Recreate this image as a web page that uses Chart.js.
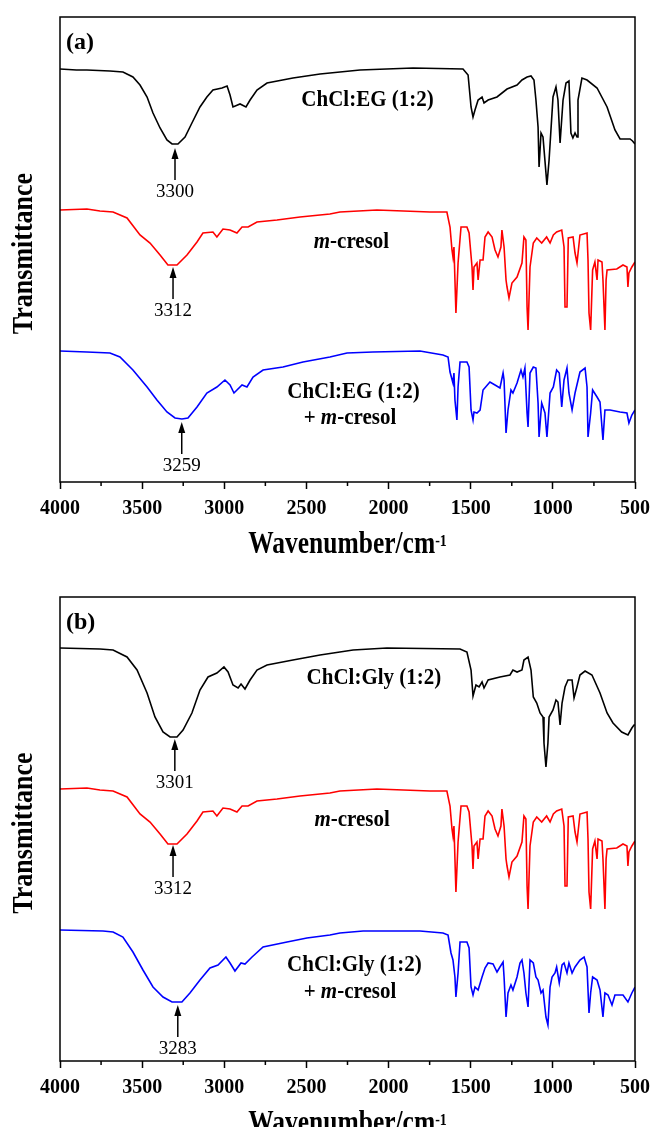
<!DOCTYPE html>
<html>
<head>
<meta charset="utf-8">
<title>FTIR spectra of ChCl DES and m-cresol</title>
<script src="https://cdn.jsdelivr.net/npm/chart.js@4.4.1/dist/chart.umd.min.js"></script>
<style>
  body { margin: 0; background: #fff; }
  canvas { display: block; }
</style>
</head>
<body>
<canvas id="chartA" width="651" height="580"></canvas>
<canvas id="chartB" width="651" height="547"></canvas>
<script>
// FTIR SPECTRA (transmittance in a.u., each curve already offset)

const SERIF = '"Liberation Serif", "Times New Roman", serif';

// ChCl:EG (1:2)
const wnEG = [4000, 3900, 3836, 3696, 3617, 3556, 3513, 3470, 3434, 3391,
  3349, 3318, 3282, 3239, 3197, 3148, 3106, 3069, 3014, 2983,
  2965, 2947, 2904, 2868, 2843, 2801, 2740, 2582, 2417, 2174,
  1851, 1547, 1516, 1498, 1486, 1474, 1455, 1431, 1419, 1394,
  1340, 1279, 1218, 1188, 1157, 1133, 1115, 1103, 1090, 1084,
  1072, 1060, 1036, 1023, 999, 981, 969, 956, 938, 920,
  902, 890, 878, 865, 853, 847, 823, 792, 731, 670,
  622, 591, 530, 515, 500];
const tEG = [413, 412, 412, 411, 410, 405, 397, 385, 369, 354,
  342, 338, 338, 345, 359, 375, 385, 392, 394, 396,
  387, 375, 378, 375, 382, 392, 399, 404, 408, 412,
  414, 413, 407, 375, 365, 372, 382, 385, 379, 382,
  385, 393, 397, 402, 405, 406, 402, 382, 355, 315,
  349, 345, 297, 322, 385, 395, 382, 339, 382, 399,
  401, 349, 344, 349, 345, 382, 404, 402, 394, 375,
  352, 343, 343, 341, 338];

// m-cresol (same spectrum in both panels)
const wnCresol = [4000, 3836, 3757, 3677, 3592, 3513, 3452, 3391, 3343, 3288,
  3227, 3166, 3130, 3069, 3045, 3008, 2965, 2923, 2892, 2855,
  2801, 2679, 2539, 2357, 2296, 2071, 1748, 1645, 1626, 1614,
  1608, 1602, 1590, 1577, 1559, 1523, 1510, 1492, 1486, 1480,
  1462, 1455, 1443, 1425, 1413, 1394, 1370, 1352, 1334, 1316,
  1310, 1297, 1285, 1279, 1267, 1249, 1218, 1188, 1176, 1164,
  1157, 1151, 1139, 1119, 1098, 1068, 1038, 1017, 997, 977,
  946, 932, 926, 914, 906, 877, 865, 853, 835, 792,
  786, 780, 770, 758, 744, 731, 725, 701, 695, 683,
  676, 670, 611, 573, 549, 543, 537, 519, 500];
const tCresol = [272, 273, 271, 270, 264, 247, 239, 227, 217, 217,
  227, 240, 249, 250, 245, 253, 252, 249, 255, 255,
  260, 262, 265, 268, 270, 272, 270, 270, 255, 232,
  225, 235, 169, 219, 255, 255, 249, 215, 192, 215,
  219, 202, 222, 222, 245, 250, 245, 232, 225, 235,
  252, 235, 202, 195, 184, 199, 205, 219, 245, 242,
  175, 152, 215, 239, 244, 239, 245, 239, 247, 250,
  252, 235, 175, 175, 244, 245, 229, 219, 247, 249,
  222, 169, 152, 212, 220, 202, 222, 220, 202, 152,
  202, 212, 213, 217, 215, 195, 209, 215, 220];

// ChCl:EG (1:2) + m-cresol
const wnEGCresol = [4000, 3836, 3696, 3635, 3556, 3470, 3410, 3349, 3300, 3258,
  3221, 3166, 3106, 3045, 2996, 2965, 2941, 2892, 2862, 2825,
  2764, 2643, 2521, 2357, 2253, 2095, 1809, 1669, 1638, 1626,
  1608, 1602, 1596, 1584, 1577, 1565, 1523, 1510, 1498, 1486,
  1480, 1462, 1443, 1425, 1383, 1352, 1322, 1303, 1297, 1285,
  1273, 1255, 1243, 1218, 1194, 1182, 1170, 1157, 1151, 1139,
  1119, 1103, 1090, 1084, 1068, 1048, 1036, 1017, 997, 977,
  961, 946, 932, 914, 902, 883, 865, 835, 804, 792,
  786, 770, 758, 731, 713, 695, 683, 652, 591, 549,
  537, 519, 500];
const tEGCresol = [131, 130, 129, 125, 112, 95, 82, 70, 64, 63,
  64, 75, 89, 95, 102, 97, 89, 97, 95, 105,
  112, 115, 120, 125, 129, 130, 131, 127, 125, 110,
  99, 109, 82, 62, 95, 120, 120, 115, 72, 62,
  70, 69, 72, 92, 100, 97, 94, 109, 102, 49,
  72, 92, 89, 99, 112, 105, 114, 69, 55, 109,
  115, 114, 79, 45, 79, 69, 45, 89, 95, 112,
  109, 75, 102, 114, 89, 72, 89, 110, 114, 95,
  45, 69, 92, 85, 80, 42, 72, 72, 70, 69,
  59, 67, 72];

// ChCl:Gly (1:2)
const wnGly = [4000, 3757, 3677, 3592, 3531, 3470, 3422, 3373, 3330, 3288,
  3251, 3197, 3148, 3099, 3045, 3002, 2977, 2947, 2916, 2898,
  2874, 2843, 2801, 2740, 2582, 2417, 2216, 2010, 1565, 1523,
  1498, 1486, 1468, 1449, 1431, 1419, 1394, 1322, 1261, 1243,
  1218, 1188, 1176, 1151, 1133, 1119, 1098, 1078, 1060, 1054,
  1042, 1030, 1023, 999, 981, 969, 956, 944, 926, 908,
  883, 871, 853, 835, 804, 762, 713, 670, 634, 581,
  543, 519, 506, 500];
const tGly = [413, 412, 411, 404, 391, 368, 344, 329, 324, 324,
  331, 348, 371, 384, 388, 394, 389, 376, 373, 377,
  372, 381, 391, 396, 401, 406, 411, 413, 412, 409,
  391, 365, 376, 374, 379, 373, 381, 384, 386, 391,
  389, 391, 401, 404, 391, 364, 358, 348, 344, 318,
  294, 318, 344, 351, 361, 359, 336, 358, 374, 381,
  381, 363, 374, 386, 390, 386, 368, 348, 338, 329,
  326, 333, 336, 336];

// ChCl:Gly (1:2) + m-cresol
const wnGlyCresol = [4000, 3738, 3677, 3617, 3556, 3495, 3434, 3373, 3318, 3258,
  3209, 3148, 3087, 3038, 2990, 2965, 2935, 2898, 2874, 2831,
  2764, 2618, 2497, 2357, 2296, 2155, 1809, 1669, 1638, 1620,
  1608, 1596, 1590, 1577, 1565, 1523, 1510, 1498, 1486, 1474,
  1455, 1431, 1413, 1394, 1364, 1340, 1322, 1303, 1297, 1285,
  1273, 1255, 1243, 1218, 1200, 1188, 1176, 1164, 1151, 1139,
  1119, 1103, 1090, 1072, 1060, 1042, 1030, 1017, 1005, 987,
  977, 961, 944, 932, 914, 902, 883, 865, 835, 810,
  792, 780, 770, 758, 731, 713, 695, 683, 664, 640,
  622, 573, 543, 519, 500];
const tGlyCresol = [131, 130, 129, 124, 109, 91, 74, 64, 59, 59,
  68, 81, 93, 96, 104, 98, 90, 98, 97, 104,
  114, 119, 123, 126, 128, 130, 130, 128, 126, 108,
  101, 84, 64, 88, 119, 119, 113, 74, 66, 74,
  71, 84, 93, 98, 97, 89, 94, 99, 84, 44,
  68, 76, 71, 84, 98, 101, 88, 68, 54, 101,
  98, 84, 81, 68, 71, 44, 36, 74, 84, 88,
  94, 78, 96, 98, 88, 98, 88, 94, 101, 104,
  94, 48, 68, 84, 81, 71, 44, 68, 66, 56,
  66, 66, 59, 68, 74];

const tickValues = [4000, 3500, 3000, 2500, 2000, 1500, 1000, 500];
const minorTicks = [3750, 3250, 2750, 2250, 1750, 1250, 750];

// O-H stretching maxima marked with arrows
const peaksA = [3300, 3312, 3259];
const peaksB = [3301, 3312, 3283];

function toPoints(wn, t) {
  return wn.map((x, i) => ({ x: x, y: t[i] }));
}

function font(size, bold, italic) {
  return (italic ? "italic " : "") + (bold ? "bold " : "") + size + "px " + SERIF;
}

// draws a row of text pieces (mixed fonts), optionally stretched vertically
function drawRich(ctx, parts, x, y, align, baseline, sy) {
  let widths = parts.map((p) => {
    ctx.font = p.font;
    return ctx.measureText(p.text).width;
  });
  let total = widths.reduce((a, b) => a + b, 0);
  let pos = align == "center" ? -total / 2 : align == "right" ? -total : 0;
  ctx.save();
  ctx.translate(x, y);
  ctx.scale(1, sy || 1);
  ctx.textAlign = "left";
  ctx.textBaseline = baseline;
  parts.forEach((p, i) => {
    ctx.font = p.font;
    ctx.fillText(p.text, pos, p.rise ? -p.rise : 0);
    pos += widths[i];
  });
  ctx.restore();
}

const LABEL_FONT = font(21, true, false);
const LABEL_FONT_IT = font(21, true, true);
const mCresol = [{ text: "m", font: LABEL_FONT_IT }, { text: "-cresol", font: LABEL_FONT }];
const plusCresol = [{ text: "+ ", font: LABEL_FONT }].concat(mCresol);

// frame, minor ticks, titles, curve names and peak arrows
const decor = {
  id: "decor",
  afterDraw(chart, args, opts) {
    let ctx = chart.ctx;
    let area = chart.chartArea;
    let xs = chart.scales.x;
    let ys = chart.scales.y;

    ctx.save();
    ctx.strokeStyle = "#000";
    ctx.fillStyle = "#000";
    ctx.lineWidth = 1.5;
    ctx.strokeRect(area.left, area.top, area.right - area.left, area.bottom - area.top);

    ctx.beginPath();
    minorTicks.forEach((v) => {
      let x = xs.getPixelForValue(v);
      ctx.moveTo(x, area.bottom);
      ctx.lineTo(x, area.bottom + 4);
    });
    ctx.stroke();

    // panel letter
    drawRich(ctx, [{ text: opts.panel, font: font(24, true) }], area.left + 6, area.top + 32, "left", "alphabetic", 1);

    // y title
    ctx.save();
    ctx.translate(32, (area.top + area.bottom) / 2 + 4);
    ctx.rotate(-Math.PI / 2);
    drawRich(ctx, [{ text: "Transmittance", font: font(26, true) }], 0, 0, "center", "alphabetic", 1.1);
    ctx.restore();

    // x title with superscript
    drawRich(ctx, [
      { text: "Wavenumber/cm", font: font(25.5, true) },
      { text: "-1", font: font(14, true), rise: 6 },
    ], (area.left + area.right) / 2, area.bottom + 71, "center", "alphabetic", 1.2);

    // curve names
    opts.labels.forEach((l) => {
      drawRich(ctx, l.parts, xs.getPixelForValue(l.wn), ys.getPixelForValue(l.t), "center", "middle", 1.08);
    });

    // arrows pointing at the band minima
    opts.arrows.forEach((a) => {
      let x = xs.getPixelForValue(a.wn);
      let tip = ys.getPixelForValue(a.tip);
      ctx.beginPath();
      ctx.moveTo(x, tip);
      ctx.lineTo(x - 3.5, tip + 11);
      ctx.lineTo(x + 3.5, tip + 11);
      ctx.closePath();
      ctx.fill();
      ctx.lineWidth = 1.5;
      ctx.beginPath();
      ctx.moveTo(x, tip + 8);
      ctx.lineTo(x, tip + 32);
      ctx.stroke();
      drawRich(ctx, [{ text: String(a.wn), font: font(19, false) }], x, tip + 44, "center", "middle", 1);
    });
    ctx.restore();
  },
};

function makeChart(id, panel, yMax, axisHeight, series, labels, arrows) {
  let ctx = document.getElementById(id).getContext("2d");
  return new Chart(ctx, {
    type: "line",
    data: {
      datasets: series.map((s) => ({
        data: toPoints(s.wn, s.t),
        borderColor: s.color,
        borderWidth: 1.6,
        pointRadius: 0,
        fill: false,
        tension: 0,
      })),
    },
    plugins: [decor],
    options: {
      responsive: false,
      animation: false,
      devicePixelRatio: 1,
      layout: { padding: { left: 60, right: 16, top: 17, bottom: 0 } },
      scales: {
        x: {
          type: "linear",
          min: 500,
          max: 4000,
          reverse: true,
          afterBuildTicks: (axis) => {
            axis.ticks = tickValues.map((v) => ({ value: v }));
          },
          afterFit: (axis) => {
            // fixed axis band; end labels may hang into the margins
            axis.height = axisHeight;
            axis.paddingLeft = 0;
            axis.paddingRight = 0;
          },
          border: { display: false },
          grid: {
            drawOnChartArea: false,
            drawTicks: true,
            tickLength: 7,
            tickWidth: 1.5,
            tickColor: "#000",
          },
          ticks: {
            color: "#000",
            padding: 8,
            maxRotation: 0,
            autoSkip: false,
            font: { family: SERIF, size: 20, weight: "bold" },
            callback: (value) => String(value),
          },
        },
        y: {
          type: "linear",
          min: 0,
          max: yMax,
          display: false,
        },
      },
      plugins: {
        legend: { display: false },
        tooltip: { enabled: false },
        decor: { panel: panel, labels: labels, arrows: arrows },
      },
    },
  });
}

makeChart("chartA", "(a)", 465, 98,
  [
    { wn: wnEG, t: tEG, color: "#000000" },
    { wn: wnCresol, t: tCresol, color: "#ff0000" },
    { wn: wnEGCresol, t: tEGCresol, color: "#0000ff" },
  ],
  [
    { wn: 2128, t: 382, parts: [{ text: "ChCl:EG (1:2)", font: LABEL_FONT }] },
    { wn: 2226, t: 240, parts: mCresol },
    { wn: 2214, t: 90, parts: [{ text: "ChCl:EG (1:2)", font: LABEL_FONT }] },
    { wn: 2235, t: 64, parts: plusCresol },
  ],
  [
    { wn: peaksA[0], tip: 334 },
    { wn: peaksA[1], tip: 215 },
    { wn: peaksA[2], tip: 60 },
  ]
);

makeChart("chartB", "(b)", 464, 66,
  [
    { wn: wnGly, t: tGly, color: "#000000" },
    { wn: wnCresol, t: tCresol, color: "#ff0000" },
    { wn: wnGlyCresol, t: tGlyCresol, color: "#0000ff" },
  ],
  [
    { wn: 2089, t: 383, parts: [{ text: "ChCl:Gly (1:2)", font: LABEL_FONT }] },
    { wn: 2222, t: 241, parts: mCresol },
    { wn: 2208, t: 96, parts: [{ text: "ChCl:Gly (1:2)", font: LABEL_FONT }] },
    { wn: 2235, t: 69, parts: plusCresol },
  ],
  [
    { wn: peaksB[0], tip: 322 },
    { wn: peaksB[1], tip: 216 },
    { wn: peaksB[2], tip: 56 },
  ]
);
</script>
</body>
</html>
